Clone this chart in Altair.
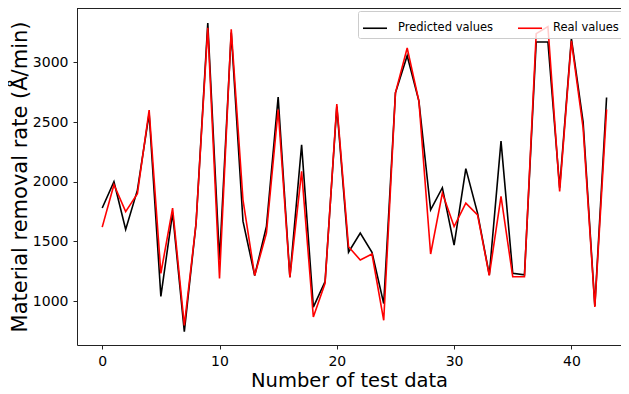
import altair as alt
import pandas as pd

test_index = list(range(44))
predicted = [1780, 2000, 1600, 1930, 2570, 1040, 1740, 745, 1650, 3330,
             1345, 3250, 1670, 1215, 1625, 2710, 1200, 2310, 950, 1165,
             2630, 1410, 1570, 1410, 980, 2745, 3055, 2675, 1765, 1950,
             1470, 2110, 1737, 1220, 2340, 1233, 1220, 3170, 3170, 1950,
             3200, 2500, 960, 2705]
real = [1620, 1975, 1750, 1900, 2600, 1233, 1780, 798, 1650, 3290,
        1191, 3277, 1849, 1215, 1569, 2605, 1200, 2087, 868, 1150,
        2650, 1456, 1345, 1395, 840, 2745, 3120, 2675, 1395, 1905,
        1625, 1821, 1723, 1215, 1877, 1205, 1205, 3240, 3300, 1919,
        3180, 2450, 952, 2605]
series_names = ["Predicted values", "Real values"]
series_colors = ["#000000", "#ff0000"]
x_ticks = [0, 10, 20, 30, 40]
y_ticks = [1000, 1500, 2000, 2500, 3000]

rows = []
for order, (name, vals) in enumerate(zip(series_names, [predicted, real])):
    for i, v in zip(test_index, vals):
        rows.append({"idx": i, "value": v, "series": name, "order": order})
df = pd.DataFrame(rows)

font = "DejaVu Sans"
W, H = 544, 337

lines = alt.Chart(df).mark_line(strokeWidth=1.6, clip=True).encode(
    x=alt.X("idx:Q",
            scale=alt.Scale(domain=[-2.15, 44.23], nice=False, zero=False),
            axis=alt.Axis(values=x_ticks, title="Number of test data", grid=False,
                          format="d", titleFontSize=19.5)),
    y=alt.Y("value:Q",
            scale=alt.Scale(domain=[633, 3455], nice=False, zero=False),
            axis=alt.Axis(values=y_ticks, title="Material removal rate (Å/min)",
                          grid=False, format="d", titleFontSize=21)),
    color=alt.Color("series:N",
                    scale=alt.Scale(domain=series_names, range=series_colors),
                    legend=alt.Legend(title=None, orient="none", legendX=281, legendY=3,
                                      direction="horizontal", symbolType="stroke",
                                      symbolSize=576, symbolStrokeWidth=1.6,
                                      labelFont=font, labelFontSize=11.5, labelColor="#000",
                                      labelOffset=10, columnPadding=20,
                                      padding=4, strokeColor="#cccccc",
                                      fillColor="rgba(255,255,255,0.8)", cornerRadius=2)),
    order=alt.Order("order:Q"),
    detail="series:N",
)

top_spine = alt.Chart(df).mark_rule(color="#222222", strokeWidth=1).encode(
    x=alt.value(0), x2=alt.value(W), y=alt.value(0)
)

chart = alt.layer(lines, top_spine).properties(
    width=W, height=H,
    padding={"left": 69, "top": 0, "right": 0, "bottom": 48},
    autosize=alt.AutoSizeParams(type="none"),
).configure_view(
    stroke=None
).configure_axis(
    labelFont=font, titleFont=font, labelFontSize=14,
    labelColor="#000", titleColor="#000", titleFontWeight="normal",
    domainColor="#222222", tickColor="#222222", tickSize=4, labelPadding=5,
).configure_axisX(
    titlePadding=3
).configure_axisY(
    titlePadding=2
)

chart.save("out.html", embed_options={"renderer": "svg", "actions": False})
